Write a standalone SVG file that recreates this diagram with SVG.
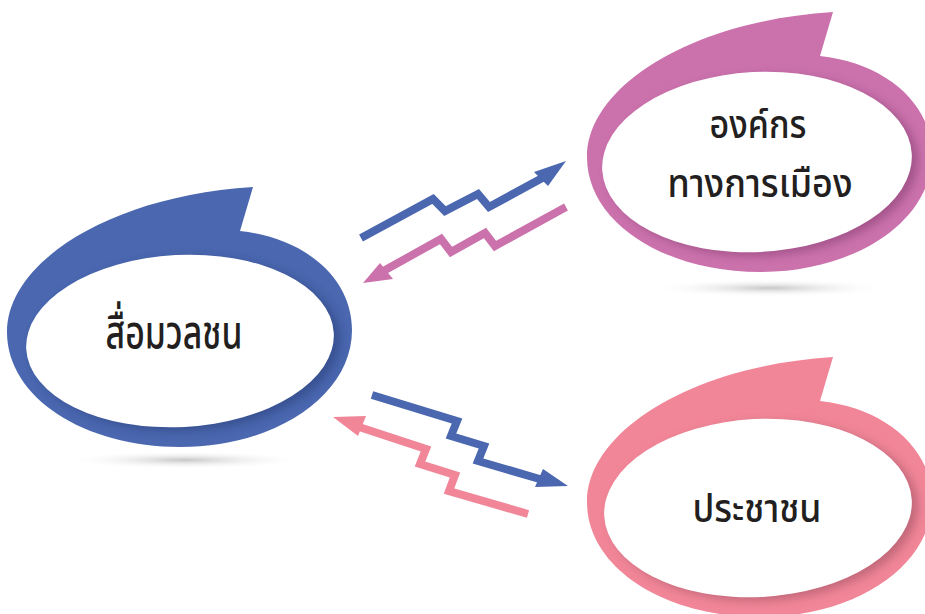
<svg xmlns="http://www.w3.org/2000/svg" xmlns:xlink="http://www.w3.org/1999/xlink" width="925" height="614" viewBox="0 0 925 614">
<style>
.lbl{font-family:"Noto Sans Thai","Noto Sans","DejaVu Sans",sans-serif;font-weight:500;fill:#231f20;text-anchor:middle}
.big{font-size:46px}
.mid{font-size:39px}
.shaft{fill:none;stroke-width:8;stroke-linejoin:miter;stroke-miterlimit:10}
</style>
<defs>
<path id="outer" d="M253,187 L240,231 C305,238 352,278 352,330 C352,396 275,447 180,447 C85,447 7,398 7,332 C7,262 110,196 253,187 Z"/>
<clipPath id="clipOuter"><use xlink:href="#outer"/></clipPath>
<filter id="blur6" x="-20%" y="-20%" width="140%" height="140%"><feGaussianBlur stdDeviation="5"/></filter>
<radialGradient id="ground" cx="0.5" cy="0.5" r="0.5">
<stop offset="0" stop-color="#b8b8b8" stop-opacity="0.8"/>
<stop offset="1" stop-color="#ffffff" stop-opacity="0"/>
</radialGradient>
</defs>
<rect width="925" height="614" fill="#ffffff"/>

<g id="ground-shadows">
<ellipse cx="185" cy="460" rx="120" ry="9" fill="url(#ground)"/>
<ellipse cx="770" cy="288" rx="120" ry="9" fill="url(#ground)"/>
</g>

<g id="connectors">
<g id="media-to-political">
<polyline class="shaft" stroke="#4a67af" points="361,238 433,199 445,211 478,194 489,207 546,176"/>
<polygon fill="#4a67af" points="566,161 534,172 548,186"/>
</g>
<g id="political-to-media">
<polyline class="shaft" stroke="#cb72ad" points="566,207 495,246 485,233 451,252 441,239 378,274"/>
<polygon fill="#cb72ad" points="363,283 380,263 393,279"/>
</g>
<g id="media-to-people">
<polyline class="shaft" stroke="#4a67af" points="372,395 457,421 451,436 484,446 478,461 543,480"/>
<polygon fill="#4a67af" points="568,486 543,469 535,487"/>
</g>
<g id="people-to-media">
<polyline class="shaft" stroke="#f18698" points="356,426 426,449 420,464 455,475 449,491 528,514"/>
<polygon fill="#f18698" points="333,417 366,416 358,436"/>
</g>
</g>

<g id="node-media">
<use xlink:href="#outer" fill="#4a67af"/>
<g clip-path="url(#clipOuter)">
<ellipse cx="186" cy="345" rx="154" ry="86" transform="rotate(-3 180 341)" fill="#2f4580" filter="url(#blur6)" opacity="0.65"/>
</g>
<ellipse cx="180" cy="341" rx="154" ry="86" transform="rotate(-3 180 341)" fill="#ffffff"/>
<text class="lbl big" x="174" y="348" textLength="137" lengthAdjust="spacingAndGlyphs">สื่อมวลชน</text>
</g>

<g id="node-political" >
<g transform="translate(580,-175)">
<use xlink:href="#outer" fill="#cb72ad"/>
<g clip-path="url(#clipOuter)">
<ellipse cx="183" cy="341" rx="155" ry="90" transform="rotate(-3 177 337)" fill="#8e4577" filter="url(#blur6)" opacity="0.65"/>
</g>
<ellipse cx="177" cy="337" rx="155" ry="90" transform="rotate(-3 177 337)" fill="#ffffff"/>
</g>
<text class="lbl mid" x="758" y="138" textLength="97" lengthAdjust="spacingAndGlyphs">องค์กร</text>
<text class="lbl mid" x="760" y="197" textLength="185" lengthAdjust="spacingAndGlyphs">ทางการเมือง</text>
</g>

<g id="node-people">
<g transform="translate(580,170)">
<use xlink:href="#outer" fill="#f18698"/>
<g clip-path="url(#clipOuter)">
<ellipse cx="184" cy="342" rx="154" ry="89" transform="rotate(-3 178 338)" fill="#a8586a" filter="url(#blur6)" opacity="0.65"/>
</g>
<ellipse cx="178" cy="338" rx="154" ry="89" transform="rotate(-3 178 338)" fill="#ffffff"/>
</g>
<text class="lbl mid" x="757" y="522" textLength="129" lengthAdjust="spacingAndGlyphs">ประชาชน</text>
</g>
</svg>
